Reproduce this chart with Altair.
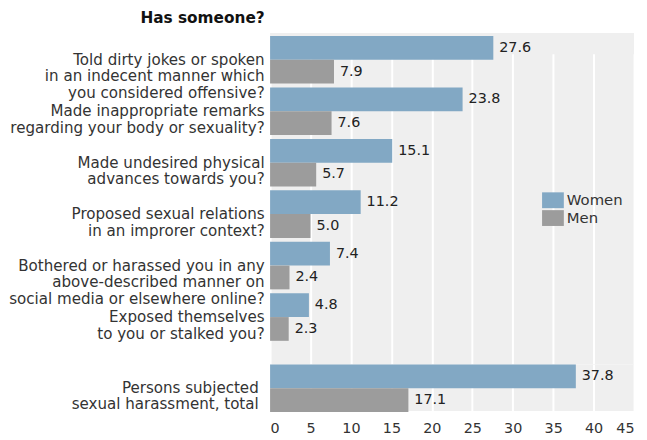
import altair as alt
import pandas as pd

categories = [
    "Told dirty jokes or spoken\nin an indecent manner which\nyou considered offensive?",
    "Made inappropriate remarks\nregarding your body or sexuality?",
    "Made undesired physical\nadvances towards you?",
    "Proposed sexual relations\nin an improrer context?",
    "Bothered or harassed you in any\nabove-described manner on\nsocial media or elsewhere online?",
    "Exposed themselves\nto you or stalked you?",
    "Persons subjected\nsexual harassment, total",
]
women = [27.6, 23.8, 15.1, 11.2, 7.4, 4.8, 37.8]
men = [7.9, 7.6, 5.7, 5.0, 2.4, 2.3, 17.1]
series = ["Women", "Men"]
colors = ["#82a8c4", "#9c9c9c"]
x_ticks = list(range(0, 50, 5))

rows = []
for c, w, m in zip(categories, women, men):
    rows.append({"cat": c, "sex": "Women", "value": w})
    rows.append({"cat": c, "sex": "Men", "value": m})
df = pd.DataFrame(rows)

FONT = "DejaVu Sans"
W = 368

xscale = alt.Scale(domain=[0, 45], nice=False)
yoff = alt.YOffset("sex:N", scale=alt.Scale(domain=series, paddingInner=0, paddingOuter=0))


def panel(cats, height, yscale, yaxis, xaxis, legend):
    base = alt.Chart(df).transform_filter(
        alt.FieldOneOfPredicate(field="cat", oneOf=cats)
    )
    y = alt.Y("cat:N", sort=cats, scale=yscale, axis=yaxis)
    bars = base.mark_bar().encode(
        x=alt.X("value:Q", scale=xscale, axis=xaxis),
        y=y,
        yOffset=yoff,
        color=alt.Color("sex:N", scale=alt.Scale(domain=series, range=colors),
                        legend=legend, sort=series),
    )
    text = base.mark_text(align="left", baseline="middle", dx=6, fontSize=14.5,
                          font=FONT, color="#222").encode(
        x=alt.X("value:Q", scale=xscale),
        y=y,
        yOffset=yoff,
        text=alt.Text("value:Q", format=".1f"),
    )
    return alt.layer(bars, text).properties(width=W, height=height)


ylab = dict(labelExpr="split(datum.label, '\\n')", labelFontSize=15.25, labelFont=FONT,
            labelColor="#333", labelLineHeight=17, labelLimit=400, ticks=False,
            domain=False)

top = panel(
    categories[:6], 335,
    alt.Scale(range=[0, 314], paddingInner=0.077, paddingOuter=0.055),
    alt.Axis(title="Has someone?", titleAngle=0, titleAlign="right", titleX=-6,
             titleY=-11, titleBaseline="alphabetic", titleFont=FONT,
             titleFontSize=15.5, titleFontWeight="bold", titleColor="#111",
             labelPadding=6, **ylab),
    alt.Axis(labels=False, ticks=False, domain=False, title=None, values=x_ticks,
             grid=True, gridColor="white", gridWidth=2),
    alt.Legend(title=None, orient="none", legendX=277, legendY=160,
               symbolType="M-1.222,-0.889H1.222V0.889H-1.222Z", symbolSize=324,
               symbolStrokeWidth=0, labelFont=FONT, labelFontSize=15,
               labelColor="#333", rowPadding=0, padding=0, labelOffset=5,
               symbolOpacity=1),
)

bottom = panel(
    categories[6:], 47,
    alt.Scale(paddingInner=0, paddingOuter=0),
    alt.Axis(title=None, labelPadding=12, **ylab),
    alt.Axis(title=None, ticks=False, domain=False, values=x_ticks, grid=True,
             gridColor="white", gridWidth=2, labelFont=FONT, labelFontSize=14.5,
             labelColor="#333", labelPadding=11),
    None,
)

chart = alt.vconcat(top, bottom, spacing=0).resolve_legend(
    color="independent"
).configure_view(fill="#efefef", stroke=None).properties(
    padding={"left": 0, "top": 0, "right": 5, "bottom": 0}
)

chart.save("out.html", embed_options={"renderer": "svg", "actions": False})
